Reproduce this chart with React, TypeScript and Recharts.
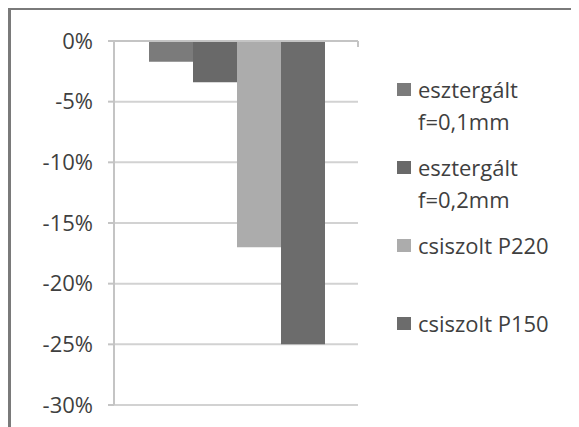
import * as React from "react";
import {
  BarChart,
  Bar,
  XAxis,
  YAxis,
  CartesianGrid,
  ReferenceLine,
} from "recharts";

const categories = ["minta"];
const seriesNames = [
  "esztergált f=0,1mm",
  "esztergált f=0,2mm",
  "csiszolt P220",
  "csiszolt P150",
];
const legendLines = [
  ["esztergált", "f=0,1mm"],
  ["esztergált", "f=0,2mm"],
  ["csiszolt P220"],
  ["csiszolt P150"],
];
const seriesValues = [-1.7, -3.4, -17, -25];
const yTicks = [0, -5, -10, -15, -20, -25, -30];

const colors = ["#7b7b7b", "#696969", "#acacac", "#6c6c6c"];
const FONT = "'Open Sans', sans-serif";

const chartData = categories.map((c) => {
  const row: Record<string, number | string> = { name: c };
  seriesNames.forEach((s, i) => {
    row[s] = seriesValues[i];
  });
  return row;
});

function LegendBox() {
  return (
    <div
      style={{
        position: "absolute",
        left: 386,
        top: 63,
        width: 180,
        fontFamily: FONT,
        fontSize: 22,
        color: "#3f3f3f",
        lineHeight: "32px",
      }}
    >
      {legendLines.map((lines, i) => (
        <div key={i} style={{ height: 78, display: "flex", alignItems: "flex-start" }}>
          <div
            style={{
              width: 14,
              height: 13,
              marginTop: 10,
              marginRight: 7,
              backgroundColor: colors[i],
              flexShrink: 0,
            }}
          />
          <div>
            {lines.map((l) => (
              <div key={l}>{l}</div>
            ))}
          </div>
        </div>
      ))}
    </div>
  );
}

// zero line drawn as the category axis, with the boundary tick at its right end
const ZeroAxis = (p: any) => (
  <g>
    <line x1={p.x1} y1={p.y1} x2={p.x2} y2={p.y2} stroke="#c4c4c4" strokeWidth={2} />
    <line x1={p.x2} y1={p.y1} x2={p.x2} y2={p.y1 + 6} stroke="#c4c4c4" strokeWidth={2} />
  </g>
);

export default function App() {
  return (
    <div
      style={{
        position: "relative",
        width: 569,
        height: 417,
        borderTop: "2px solid #7a7a7a",
        borderLeft: "3px solid #7a7a7a",
        background: "#fff",
      }}
    >
      <BarChart
        width={568}
        height={417}
        data={chartData}
        margin={{ top: 31, right: 221, bottom: 22, left: 0 }}
        barCategoryGap={35}
        barGap={0}
      >
        <CartesianGrid vertical={false} stroke="#d2d2d2" strokeWidth={2} />
        <XAxis dataKey="name" hide />
        <YAxis
          domain={[-30, 0]}
          ticks={yTicks}
          width={103}
          interval={0}
          tickFormatter={(v: number) => `${v}%`}
          axisLine={{ stroke: "#c4c4c4", strokeWidth: 2 }}
          tickLine={{ stroke: "#c4c4c4", strokeWidth: 2 }}
          tickSize={6}
          tickMargin={15}
          tick={{ fontFamily: FONT, fontSize: 22, fill: "#3f3f3f" }}
        />
        {seriesNames.map((s, i) => (
          <Bar key={s} dataKey={s} fill={colors[i]} isAnimationActive={false} />
        ))}
        <ReferenceLine y={0} shape={ZeroAxis} />
      </BarChart>
      <LegendBox />
    </div>
  );
}
